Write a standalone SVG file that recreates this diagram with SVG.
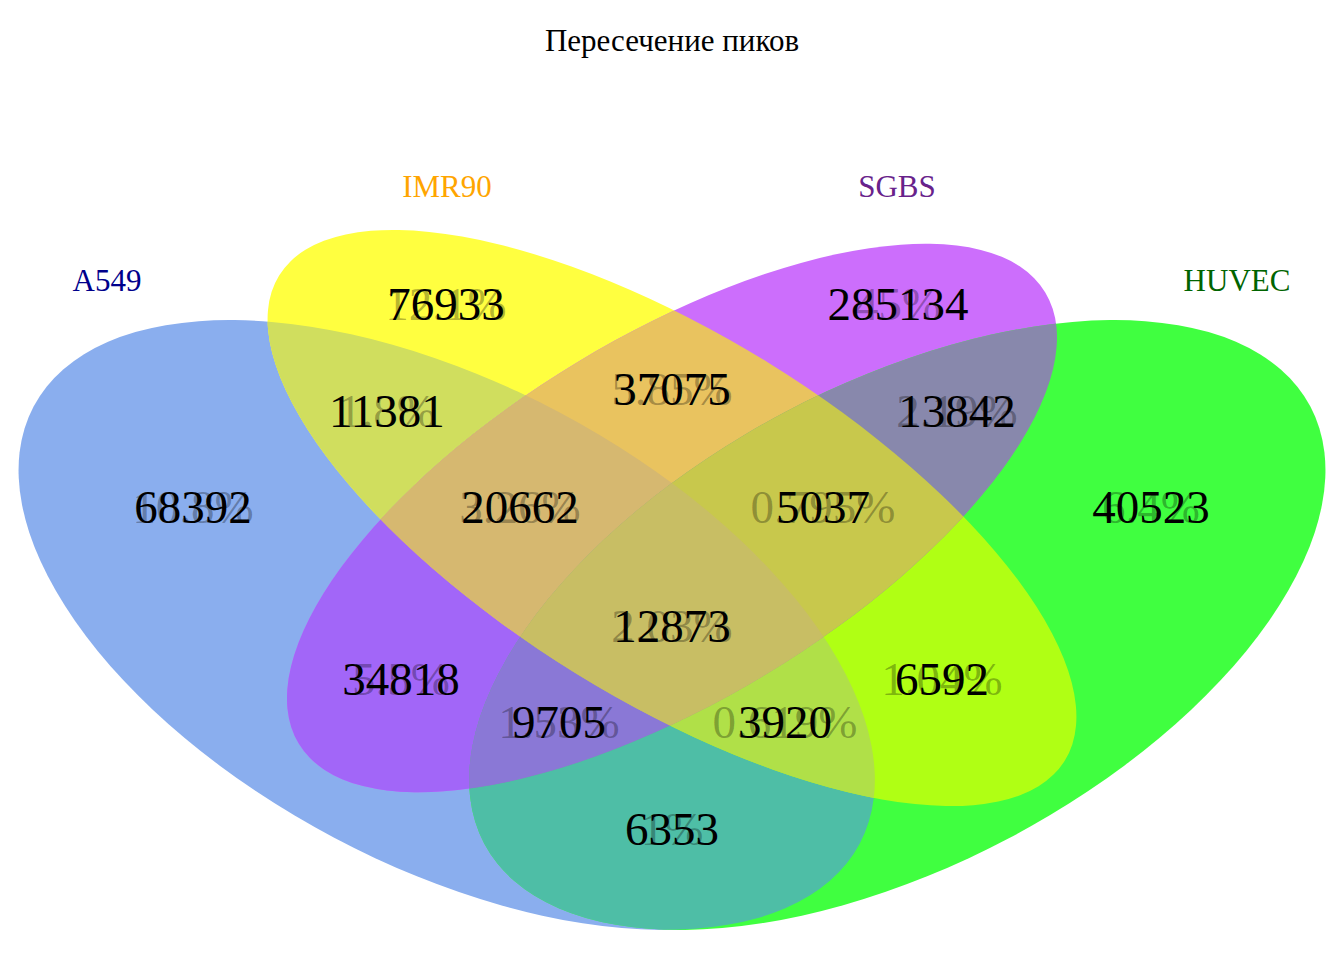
<svg xmlns="http://www.w3.org/2000/svg" xmlns:xlink="http://www.w3.org/1999/xlink" width="1344" height="960" viewBox="0 0 1344 960">
<style>
text { font-family: "Liberation Serif", "Times New Roman", serif; text-anchor: middle; }
.num { font-size: 47px; fill: #000; }
.pct { font-size: 47px; fill: #000; fill-opacity: 0.3; }
.cat { font-size: 31px; }
.title { font-size: 31px; fill: #000; }
</style>
<defs>
<ellipse id="eA" cx="0" cy="0" rx="467.3" ry="240.7" transform="translate(446.7,625) rotate(27.87)"/>
<ellipse id="eI" cx="0" cy="0" rx="461.7" ry="182.7" transform="translate(672,518) rotate(31.69)"/>
<ellipse id="eS" cx="0" cy="0" rx="436.1" ry="182.4" transform="translate(672,518) rotate(-31.14)"/>
<ellipse id="eH" cx="0" cy="0" rx="467.3" ry="240.7" transform="translate(897.3,625) rotate(-27.87)"/>
<clipPath id="cA"><use xlink:href="#eA"/></clipPath>
<clipPath id="cI"><use xlink:href="#eI"/></clipPath>
<clipPath id="cS"><use xlink:href="#eS"/></clipPath>
<clipPath id="cH"><use xlink:href="#eH"/></clipPath>
</defs>
<rect width="1344" height="960" fill="#ffffff"/>
<g id="shapes">
<g id="set-A549"><use xlink:href="#eA" fill="#8AAEEE"/></g>
<g id="set-IMR90"><use xlink:href="#eI" fill="#FFFF40"/></g>
<g id="set-SGBS"><use xlink:href="#eS" fill="#CC6EFC"/></g>
<g id="set-HUVEC"><use xlink:href="#eH" fill="#40FF40"/></g>
<g id="r-AI" clip-path="url(#cA)"><use xlink:href="#eI" fill="#D0DE5E"/></g>
<g id="r-AS" clip-path="url(#cA)"><use xlink:href="#eS" fill="#A266F8"/></g>
<g id="r-AH" clip-path="url(#cA)"><use xlink:href="#eH" fill="#4EBEA6"/></g>
<g id="r-IS" clip-path="url(#cI)"><use xlink:href="#eS" fill="#E9C35F"/></g>
<g id="r-IH" clip-path="url(#cI)"><use xlink:href="#eH" fill="#B0FF14"/></g>
<g id="r-SH" clip-path="url(#cS)"><use xlink:href="#eH" fill="#8888AC"/></g>
<g id="r-AIS" clip-path="url(#cA)"><g clip-path="url(#cI)"><use xlink:href="#eS" fill="#D6B870"/></g></g>
<g id="r-AIH" clip-path="url(#cA)"><g clip-path="url(#cI)"><use xlink:href="#eH" fill="#B0E048"/></g></g>
<g id="r-ASH" clip-path="url(#cA)"><g clip-path="url(#cS)"><use xlink:href="#eH" fill="#8A78D6"/></g></g>
<g id="r-ISH" clip-path="url(#cI)"><g clip-path="url(#cS)"><use xlink:href="#eH" fill="#C8C84C"/></g></g>
<g id="r-AISH" clip-path="url(#cA)"><g clip-path="url(#cI)"><g clip-path="url(#cS)"><use xlink:href="#eH" fill="#C8BE64"/></g></g></g>
</g>
<g id="labels">
<g id="l-A"><text class="pct" x="193" y="523">10.8%</text><text class="num" x="193" y="523">68392</text></g>
<g id="l-I"><text class="pct" x="446" y="320">12.1%</text><text class="num" x="446" y="320">76933</text></g>
<g id="l-S"><text class="pct" x="898" y="320">45%</text><text class="num" x="898" y="320">285134</text></g>
<g id="l-H"><text class="pct" x="1151" y="523">6.4%</text><text class="num" x="1151" y="523">40523</text></g>
<g id="l-AI"><text class="pct" x="387" y="427">1.8%</text><text class="num" x="387" y="427">11381</text></g>
<g id="l-IS"><text class="pct" x="672" y="405">5.85%</text><text class="num" x="672" y="405">37075</text></g>
<g id="l-SH"><text class="pct" x="957" y="427">2.19%</text><text class="num" x="957" y="427">13842</text></g>
<g id="l-AIS"><text class="pct" x="520" y="523">3.26%</text><text class="num" x="520" y="523">20662</text></g>
<g id="l-ISH"><text class="pct" x="823" y="523">0.795%</text><text class="num" x="823" y="523">5037</text></g>
<g id="l-AISH"><text class="pct" x="672" y="642">2.03%</text><text class="num" x="672" y="642">12873</text></g>
<g id="l-AS"><text class="pct" x="401" y="695">5.5%</text><text class="num" x="401" y="695">34818</text></g>
<g id="l-ASH"><text class="pct" x="559" y="738">1.53%</text><text class="num" x="559" y="738">9705</text></g>
<g id="l-AIH"><text class="pct" x="785" y="738">0.619%</text><text class="num" x="785" y="738">3920</text></g>
<g id="l-IH"><text class="pct" x="942" y="695">1.04%</text><text class="num" x="942" y="695">6592</text></g>
<g id="l-AH"><text class="pct" x="672" y="845">1%</text><text class="num" x="672" y="845">6353</text></g>
</g>
<g id="categories">
<text class="cat" x="107" y="291" fill="#00008B">A549</text>
<text class="cat" x="447" y="197" fill="#FFA500">IMR90</text>
<text class="cat" x="897" y="197" fill="#68228B">SGBS</text>
<text class="cat" x="1237" y="291" fill="#006400">HUVEC</text>
</g>
<text class="title" x="672" y="51">Пересечение пиков</text>
</svg>
